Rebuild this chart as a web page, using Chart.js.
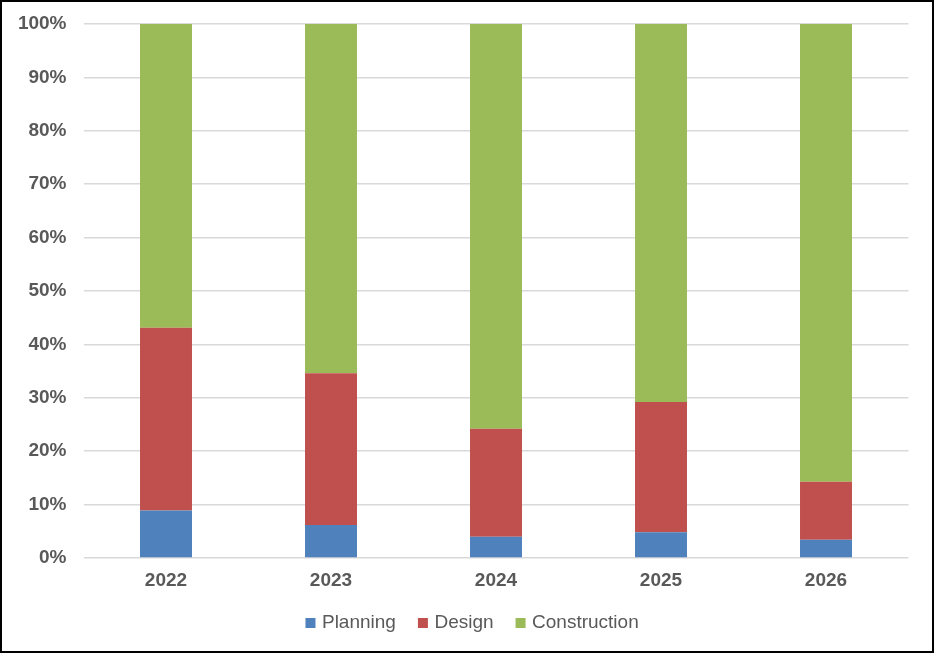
<!DOCTYPE html>
<html>
<head>
<meta charset="utf-8">
<script src="https://cdn.jsdelivr.net/npm/chart.js@4/dist/chart.umd.min.js"></script>
<style>
  html, body { margin: 0; padding: 0; background: #ffffff; }
  #frame { width: 934px; height: 653px; box-sizing: border-box; border: 2px solid #000000; background: #ffffff; }
  #wrap { width: 930px; height: 649px; position: relative; }
</style>
</head>
<body>
<div id="frame"><div id="wrap"><canvas id="c"></canvas></div></div>
<script>
const categories = ['2022', '2023', '2024', '2025', '2026'];
const planning = [8.9, 6.2, 4.0, 4.8, 3.4];
const design = [34.2, 28.4, 20.2, 24.4, 10.9];
const construction = [56.9, 65.4, 75.8, 70.8, 85.7];
const yTicks = [0, 10, 20, 30, 40, 50, 60, 70, 80, 90, 100];

const FONT = "'Liberation Sans', Arial, sans-serif";
const TEXT = '#595959';

const legendShift = {
  id: 'legendShift',
  afterLayout(chart) { if (chart.legend) { chart.legend.left += 36.7; } }
};

new Chart(document.getElementById('c'), {
  type: 'bar',
  data: {
    labels: categories,
    datasets: [
      { label: 'Planning', data: planning, backgroundColor: '#4F81BD' },
      { label: 'Design', data: design, backgroundColor: '#C0504D' },
      { label: 'Construction', data: construction, backgroundColor: '#9BBB59' }
    ]
  },
  plugins: [legendShift],
  options: {
    responsive: true,
    maintainAspectRatio: false,
    animation: false,
    datasets: { bar: { categoryPercentage: 1.0, barPercentage: 0.315, borderWidth: 0 } },
    layout: { padding: { top: 22, right: 23.5, bottom: 8.5, left: 0 } },
    plugins: {
      legend: {
        position: 'bottom',
        labels: {
          usePointStyle: true, pointStyle: 'rect',
          boxWidth: 4, boxHeight: 10, padding: 25,
          color: TEXT,
          font: { family: FONT, size: 19 }
        }
      },
      tooltip: { enabled: false }
    },
    scales: {
      x: {
        stacked: true,
        grid: { display: false, drawTicks: false },
        border: { display: false },
        ticks: { color: TEXT, padding: 11, font: { family: FONT, size: 19, weight: 'bold' } },
        afterFit: s => { s.height = 30.5; }
      },
      y: {
        stacked: true,
        min: 0, max: 100,
        afterBuildTicks: s => { s.ticks = yTicks.map(v => ({ value: v })); },
        grid: { color: '#d9d9d9', lineWidth: 1.5, drawTicks: true, tickLength: 7, tickColor: 'rgba(0,0,0,0)' },
        border: { display: false },
        ticks: {
          color: TEXT, padding: 10,
          font: { family: FONT, size: 19, weight: 'bold' },
          callback: v => v + '%'
        },
        afterFit: s => { s.width = 81.5; }
      }
    }
  }
});
</script>
</body>
</html>
